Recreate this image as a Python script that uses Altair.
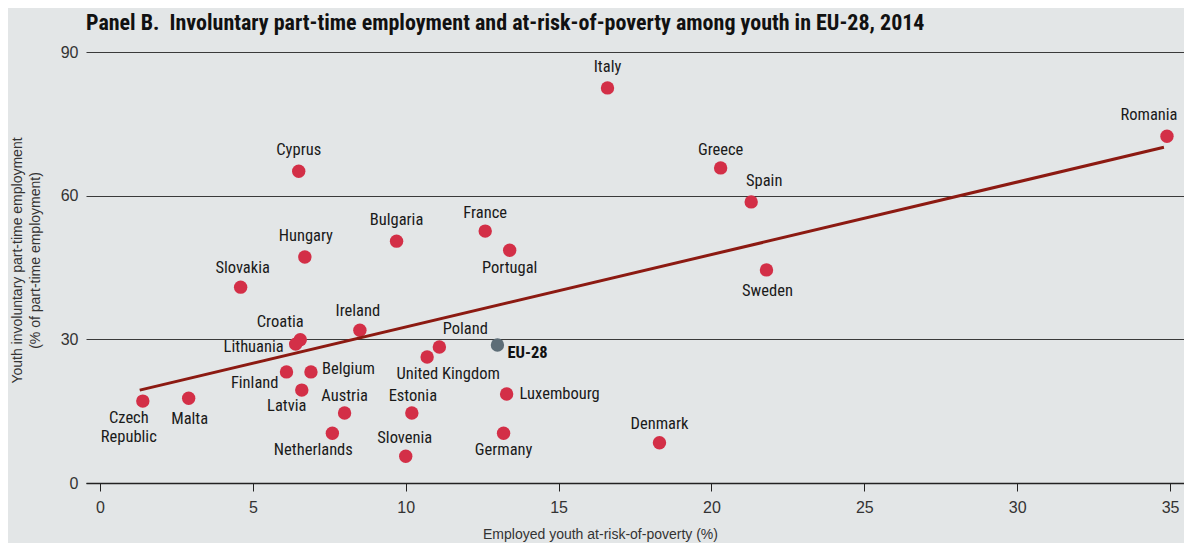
import altair as alt
import pandas as pd

# ---- data ----
COUNTRIES = ["Italy", "Romania", "Greece", "Spain", "Sweden", "Cyprus", "Hungary",
             "Slovakia", "Bulgaria", "France", "Portugal", "Ireland", "Croatia",
             "Lithuania", "Poland", "United Kingdom", "Finland", "Belgium", "Latvia",
             "Austria", "Estonia", "Netherlands", "Slovenia", "Germany", "Luxembourg",
             "Denmark", "Czech\nRepublic", "Malta"]
POVERTY = [16.6, 34.9, 20.3, 21.3, 21.8, 6.5, 6.7,
           4.6, 9.7, 12.6, 13.4, 8.5, 6.55,
           6.4, 11.1, 10.7, 6.1, 6.9, 6.6,
           8.0, 10.2, 7.6, 10.0, 13.2, 13.3,
           18.3, 1.4, 2.9]
INVOLUNTARY = [82.5, 72.4, 65.8, 58.7, 44.5, 65.1, 47.2,
               40.9, 50.5, 52.6, 48.6, 31.9, 29.9,
               29.0, 28.4, 26.3, 23.2, 23.2, 19.4,
               14.6, 14.6, 10.4, 5.6, 10.4, 18.6,
               8.4, 17.1, 17.7]

EU_LABEL = ["EU-28"]
EU_POVERTY = [13.0]
EU_INVOLUNTARY = [28.8]

TREND_X = [1.3, 34.8]
TREND_Y = [19.4, 70.1]

X_TICKS = [0, 5, 10, 15, 20, 25, 30, 35]
Y_TICKS = [0, 30, 60, 90]

# ---- label layout (pixel offsets from each point, alignment) ----
LABEL_LAYOUT = {
    "Italy": (0, -21, "center"), "Romania": (-18, -21, "center"),
    "Greece": (0, -18, "center"), "Spain": (13, -21, "center"),
    "Sweden": (1, 21, "center"), "Cyprus": (0, -21, "center"),
    "Hungary": (1, -21, "center"), "Slovakia": (2, -19, "center"),
    "Bulgaria": (0, -21, "center"), "France": (0, -18, "center"),
    "Portugal": (0, 18, "center"), "Ireland": (-2, -19, "center"),
    "Croatia": (-20, -18, "center"), "Lithuania": (-12, 3, "right"),
    "Poland": (26, -18, "center"), "United Kingdom": (21, 17, "center"),
    "Finland": (-8, 11, "right"), "Belgium": (11, -3, "left"),
    "Latvia": (-15, 16, "center"), "Austria": (0, -17, "center"),
    "Estonia": (1, -17, "center"), "Netherlands": (-19, 17, "center"),
    "Slovenia": (-1, -18, "center"), "Germany": (0, 17, "center"),
    "Luxembourg": (13, 0, "left"), "Denmark": (0, -19, "center"),
    "Czech\nRepublic": (-14, 17, "center"), "Malta": (1, 21, "center"),
}

NARROW = "Roboto Condensed, Liberation Sans Narrow, DejaVu Sans Condensed, sans-serif"
PLAIN = "Liberation Sans, Arial, sans-serif"
RED = "#d32f47"
GREY = "#5d6d77"
LINE = "#8c1a12"
BG = "#e3e6e7"

df = pd.DataFrame({"country": COUNTRIES, "poverty": POVERTY, "involuntary": INVOLUNTARY})
eu = pd.DataFrame({"country": EU_LABEL, "poverty": EU_POVERTY, "involuntary": EU_INVOLUNTARY})
trend = pd.DataFrame({"poverty": TREND_X, "involuntary": TREND_Y})

xscale = alt.Scale(domain=[-0.458, 35.457], nice=False, zero=False)
yscale = alt.Scale(domain=[0, 90], nice=False)

x_enc = alt.X("poverty:Q", scale=xscale, axis=alt.Axis(
    values=X_TICKS, title="Employed youth at-risk-of-poverty (%)",
    grid=False, domain=True, domainColor="#222", domainWidth=1.5,
    ticks=True, tickColor="#222", tickSize=8, tickWidth=1,
    labelFont=PLAIN, labelFontSize=16, labelColor="#333", labelPadding=8,
    titleFont=PLAIN, titleFontSize=14, titleFontWeight="normal", titleColor="#333",
    titleX=514, titleY=51, titleBaseline="middle", titleAnchor="start", titleAlign="center"))
y_enc = alt.Y("involuntary:Q", scale=yscale, axis=alt.Axis(
    values=Y_TICKS,
    title=["Youth involuntary part-time employment", "(% of part-time employment)"],
    grid=True, gridColor="#3a3a3a", gridWidth=1, domain=False, ticks=False,
    labelFont=PLAIN, labelFontSize=16, labelColor="#333", labelPadding=8,
    titleFont=PLAIN, titleFontSize=14, titleFontWeight="normal", titleColor="#333",
    titleX=-69, titleY=208, titleAngle=270, titleAlign="center",
    titleBaseline="middle", titleLineHeight=18))

base = alt.Chart(df)

trend_line = alt.Chart(trend).mark_line(color=LINE, strokeWidth=3).encode(
    x="poverty:Q", y="involuntary:Q")

points = base.mark_circle(size=180, color=RED, opacity=1).encode(x=x_enc, y=y_enc)

labels = []
for c in COUNTRIES:
    dx, dy, a = LABEL_LAYOUT[c]
    labels.append(
        base.transform_filter(alt.datum.country == c)
        .mark_text(align=a, baseline="middle", dx=dx, dy=dy, font=NARROW, fontSize=16.5,
                   color="#1a1a1a", lineBreak="\n", lineHeight=19)
        .encode(x="poverty:Q", y="involuntary:Q", text="country:N"))

eu_point = alt.Chart(eu).mark_circle(size=180, color=GREY, opacity=1).encode(
    x="poverty:Q", y="involuntary:Q")
eu_label = alt.Chart(eu).mark_text(align="left", baseline="middle", dx=10, dy=8,
                                   font=NARROW, fontSize=16.5, fontWeight="bold",
                                   color="#111").encode(
    x="poverty:Q", y="involuntary:Q", text="country:N")

chart = alt.layer(points, trend_line, *labels, eu_point, eu_label).properties(
    width=1098, height=431,
    title=alt.TitleParams(
        "Panel B.\u00a0 Involuntary part-time employment and at-risk-of-poverty among youth in EU-28, 2014",
        anchor="start", frame="group", font=NARROW, fontSize=22, fontWeight="bold",
        color="#111", offset=9),
    autosize=alt.AutoSizeParams(type="none"),
    padding={"left": 78, "top": 44, "right": 0, "bottom": 60},
    background=BG,
).configure_view(stroke=None)

chart.save("out.html", embed_options={"renderer": "svg", "actions": False})
